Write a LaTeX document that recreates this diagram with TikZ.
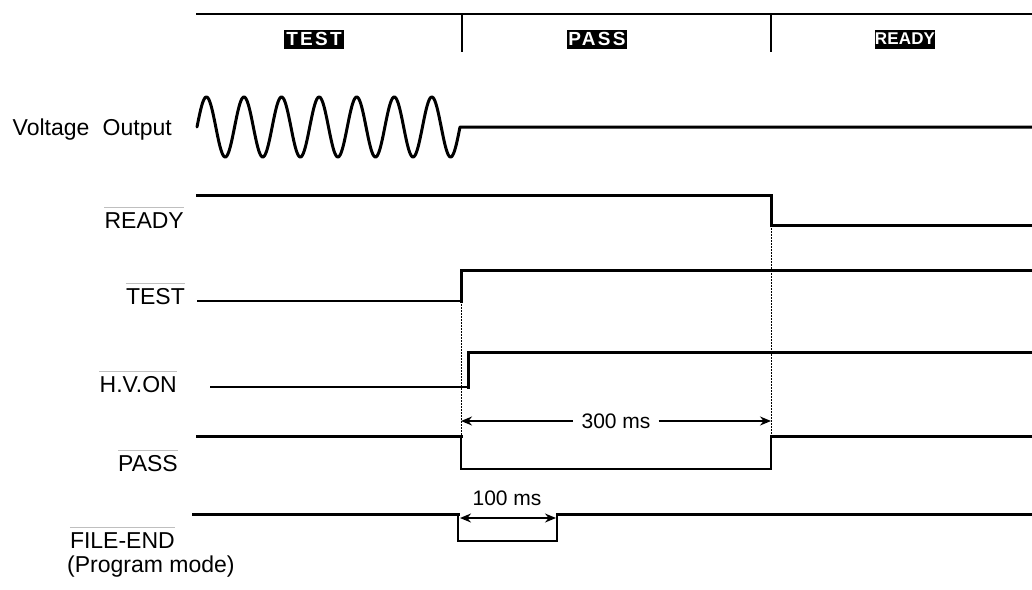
\documentclass[tikz,border=0pt]{standalone}
\usepackage{fontspec}
\setmainfont{Liberation Sans}
\newfontfamily\hdrfont{Liberation Sans}[LetterSpace=12]
\newfontfamily\hdrfontb{Liberation Sans}[LetterSpace=1]
\usetikzlibrary{arrows.meta}
\begin{document}
\begin{tikzpicture}[x=1pt,y=-1pt,
  sig/.style={line width=3pt, line join=miter, line cap=rect},
  sigthin/.style={line width=2pt, line join=miter},
  lbl/.style={font=\fontsize{23}{27}\selectfont, inner sep=0pt},
  msl/.style={font=\fontsize{21}{25}\selectfont, inner sep=0pt},
  ovl/.style={draw=black!25, line width=1pt},
  hdr/.style={fill=black, text=white, minimum width=60pt, minimum height=19pt, inner sep=0pt},
  dimline/.style={line width=1.5pt},
  dimarr/.style={line width=1.5pt, {Stealth[length=11pt,width=9pt]}-{Stealth[length=11pt,width=9pt]}},
  guide/.style={line width=1pt, dash pattern=on 2pt off 1pt},
  frame/.style={line width=1.5pt}
]
\useasboundingbox (0,0) rectangle (1032,589);

% header
\draw[frame] (196,14) -- (1032,14);
\draw[frame] (462,14) -- (462,52);
\draw[frame] (771,14) -- (771,52);
\node[hdr, font=\hdrfont\bfseries\fontsize{19}{19}\selectfont] (hTest)  at (314,39) {TEST};
\node[hdr, font=\hdrfont\bfseries\fontsize{19}{19}\selectfont] (hPass)  at (597,39) {PASS};
\node[hdr, font=\hdrfontb\bfseries\fontsize{17}{17}\selectfont] (hReady) at (905,39) {READY};

% labels
\node[lbl, anchor=east] (lVolt) at (172,130) {Voltage\hspace{0.3em} Output};
\node[lbl, anchor=east] (lReady) at (184,221) {READY};
\node[lbl, anchor=east] (lTest) at (185,297) {TEST};
\node[lbl, anchor=east] (lHv) at (177,385) {H.V.ON};
\node[lbl, anchor=east] (lPass) at (178,464) {PASS};
\node[lbl, anchor=east] (lFile) at (175,541) {FILE-END};
\node[lbl, anchor=west] (lProg) at (67,567) {(Program mode)};

% overlines
\foreach \n in {lReady,lTest,lHv,lPass,lFile}
  \draw[ovl] ([yshift=5pt]\n.north west) -- ([yshift=5pt]\n.north east);

% voltage output
\draw[sig, line cap=round, line join=round] plot[domain=0:2520, samples=500]
  ({197+\x/360*263/7}, {127-30*sin(\x)}) -- (1032,127);

% READY
\coordinate (rdyStep) at (771,225);
\draw[sig] (197,195) -- (771,195) -- (rdyStep) -- (1032,225);

% TEST
\coordinate (tstStep) at (461,301);
\draw[sigthin] (197,301) -- (tstStep);
\draw[sig] (tstStep) -- (461,270) -- (1032,270);

% H.V.ON
\draw[sigthin] (210,387) -- (468,387);
\draw[sig] (468,387) -- (468,352) -- (1032,352);

% PASS
\coordinate (passDn) at (461,469);
\coordinate (passUp) at (771,436);
\draw[sig] (197,436) -- (461,436);
\draw[sigthin] (461,436) -- (passDn) -- (771,469) -- (passUp);
\draw[sig] (passUp) -- (1032,436);

% FILE-END
\draw[sig] (193,514) -- (458,514);
\draw[sigthin] (458,514) -- (458,541) -- (557,541) -- (557,514);
\draw[sig] (557,514) -- (1032,514);

% guides
\draw[guide] (tstStep) -- (passDn);
\draw[guide] (rdyStep) -- (passUp);

% 300 ms
\coordinate (d1a) at (461,421);
\coordinate (d1b) at (771,421);
\node[msl, fill=white, inner xsep=8pt] (t300) at (616,421) {300 ms};
\draw[dimline, {Stealth[length=11pt,width=9pt]}-] (d1a) -- (t300.west);
\draw[dimline, -{Stealth[length=11pt,width=9pt]}] (t300.east) -- (d1b);

% 100 ms
\coordinate (d2a) at (460,518);
\coordinate (d2b) at (556,518);
\draw[dimarr] (d2a) -- (d2b);
\node[msl] (t100) at (507,498) {100 ms};

\end{tikzpicture}
\end{document}
